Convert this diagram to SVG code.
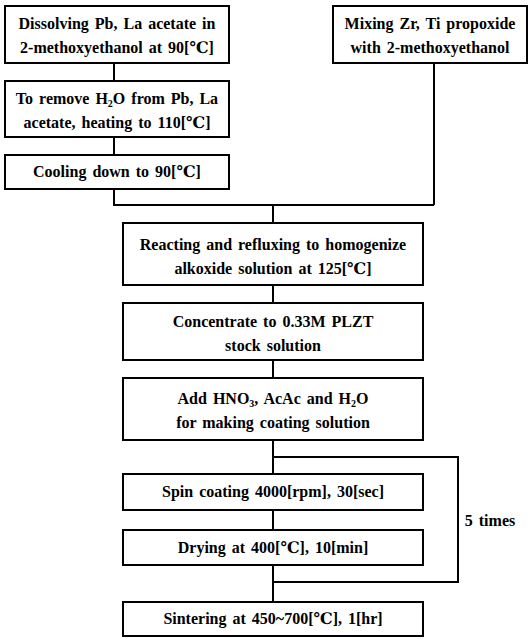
<svg xmlns="http://www.w3.org/2000/svg" width="530" height="639" viewBox="0 0 530 639">
<style>
.box{fill:#fff;stroke:#000;stroke-width:2}
.ln{fill:none;stroke:#000;stroke-width:2}
text{font-family:"Liberation Serif","DejaVu Serif",serif;font-size:16px;font-weight:bold;word-spacing:2px;text-anchor:middle;fill:#000}
.sub{font-size:10px}
</style>
<rect width="530" height="639" fill="#fff"/>
<g id="connectors">
<path class="ln" d="M114 63V81M114 137V155M114 189V205H434M434 63V205M273 205V223M273 285V303M273 360V378M273 440V474M273 510V530M273 565V602M273 457H458V582H273"/>
</g>
<g id="n1"><rect class="box" x="5" y="6" width="224" height="57"/>
<text x="117" y="29">Dissolving Pb, La acetate in</text>
<text x="117" y="53">2-methoxyethanol at 90[℃]</text></g>
<g id="n2"><rect class="box" x="5" y="81" width="224" height="56"/>
<text x="117" y="104">To remove H<tspan class="sub" dy="3">2</tspan><tspan dy="-3">O from Pb, La</tspan></text>
<text x="117" y="128">acetate, heating to 110[℃]</text></g>
<g id="n3"><rect class="box" x="5" y="155" width="224" height="34"/>
<text x="117" y="177">Cooling down to 90[℃]</text></g>
<g id="n4"><rect class="box" x="333" y="6" width="194" height="57"/>
<text x="430" y="29">Mixing Zr, Ti propoxide</text>
<text x="430" y="53">with 2-methoxyethanol</text></g>
<g id="n5"><rect class="box" x="123" y="223" width="300" height="62"/>
<text x="273" y="250">Reacting and refluxing to homogenize</text>
<text x="273" y="274">alkoxide solution at 125[℃]</text></g>
<g id="n6"><rect class="box" x="123" y="303" width="300" height="57"/>
<text x="273" y="327">Concentrate to 0.33M PLZT</text>
<text x="273" y="351">stock solution</text></g>
<g id="n7"><rect class="box" x="123" y="378" width="300" height="62"/>
<text x="273" y="404">Add HNO<tspan class="sub" dy="3">3</tspan><tspan dy="-3">, AcAc and H</tspan><tspan class="sub" dy="3">2</tspan><tspan dy="-3">O</tspan></text>
<text x="273" y="428">for making coating solution</text></g>
<g id="n8"><rect class="box" x="123" y="474" width="300" height="36"/>
<text x="273" y="497">Spin coating 4000[rpm], 30[sec]</text></g>
<g id="n9"><rect class="box" x="123" y="530" width="300" height="35"/>
<text x="273" y="553">Drying at 400[℃], 10[min]</text></g>
<g id="n10"><rect class="box" x="123" y="602" width="300" height="34"/>
<text x="273" y="624">Sintering at 450~700[℃], 1[hr]</text></g>
<text x="490" y="526">5 times</text>
</svg>
